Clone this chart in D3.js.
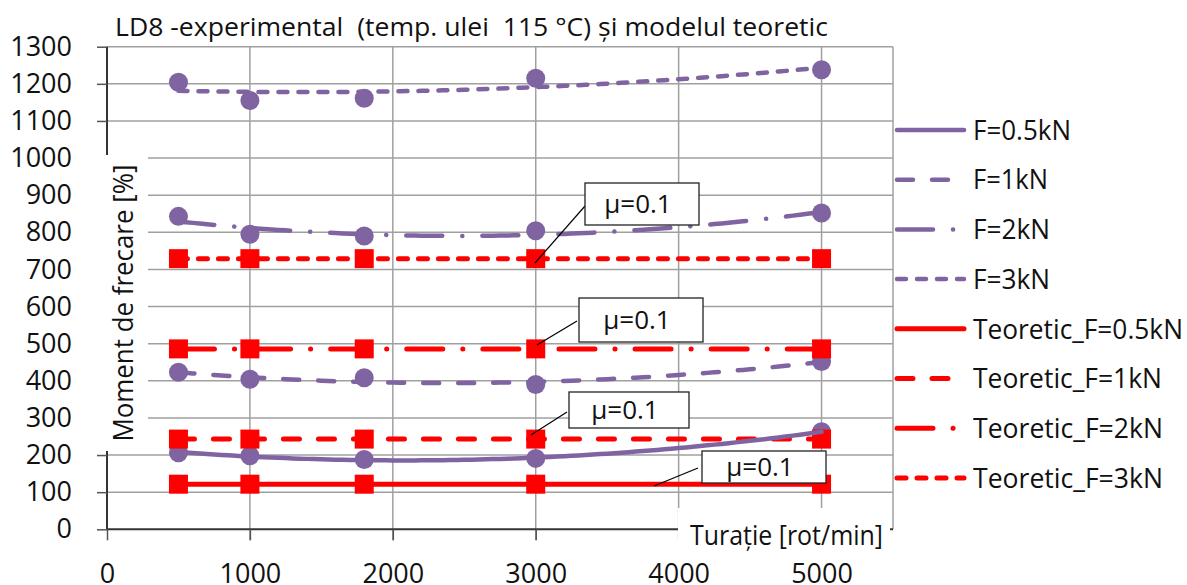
<!DOCTYPE html>
<html><head><meta charset="utf-8">
<script src="https://cdn.jsdelivr.net/npm/d3@7"></script>
<style>
html,body{margin:0;padding:0;background:#fff;}
text{font-family:"Open Sans",sans-serif;fill:#111;}
</style></head>
<body>
<svg id="c" width="1187" height="585"></svg>
<script>
// ---- data ----
const title = "LD8 -experimental  (temp. ulei  115 °C) și modelul teoretic";
const yTitle = "Moment de frecare [%]";
const xTitle = "Turație [rot/min]";
const speeds = [500, 1000, 1800, 3000, 5000];
const expF05 = [206, 198, 188, 191, 263];
const expF1  = [423, 404, 408, 390, 452];
const expF2  = [843, 795, 790, 804, 852];
const expF3  = [1204, 1155, 1161, 1215, 1238];
const teoF05 = [121.5, 121.5, 121.5, 121.5, 121.5];
const teoF1  = [243, 243, 243, 243, 243];
const teoF2  = [486, 486, 486, 486, 486];
const teoF3  = [729, 729, 729, 729, 729];
const xTicks = [0, 1000, 2000, 3000, 4000, 5000];
const yTicks = [0,100,200,300,400,500,600,700,800,900,1000,1100,1200,1300];
const expNames = ["F=0.5kN","F=1kN","F=2kN","F=3kN"];
const teoNames = ["Teoretic_F=0.5kN","Teoretic_F=1kN","Teoretic_F=2kN","Teoretic_F=3kN"];
const muLabel = "μ=0.1";

// ---- layout ----
const svg = d3.select("#c");
const L = 107, R = 893, T = 46.7, B = 529.3;
const x = d3.scaleLinear().domain([0, 5500]).range([L, R]);
const y = d3.scaleLinear().domain([0, 1300]).range([B, T]);
const purple = "#8064A2", red = "#FF0000", grid = "#a0a0a0";
const dashes = [null, "16,19", "36,20,0.1,20", "9,11"];

// gridlines
const g = svg.append("g");
g.selectAll(".hg").data(yTicks.slice(1)).join("line")
  .attr("x1", L).attr("x2", R).attr("y1", d => y(d)).attr("y2", d => y(d))
  .attr("stroke", grid).attr("stroke-width", 1.5);
g.selectAll(".vg").data(xTicks.slice(1)).join("line")
  .attr("x1", d => x(d)).attr("x2", d => x(d)).attr("y1", T).attr("y2", B + 11)
  .attr("stroke", grid).attr("stroke-width", 1.5);
// right border
g.append("line").attr("x1", R).attr("x2", R).attr("y1", T).attr("y2", B)
  .attr("stroke", grid).attr("stroke-width", 1.5);

// axes
const yAxis = svg.append("g").attr("transform", `translate(${L},0)`)
  .call(d3.axisLeft(y).tickValues(yTicks).tickSize(10).tickFormat(d3.format("d")));
yAxis.select(".domain").attr("stroke", "#333").attr("stroke-width", 2).attr("d", `M0,${T}V${B}`);
yAxis.selectAll(".tick line").attr("stroke", "#555").attr("stroke-width", 1.5);
yAxis.selectAll(".tick text").attr("x", -35).attr("font-size", 27).attr("fill", "#111")
  .style("font-family", "Open Sans");
const xAxis = svg.append("g").attr("transform", `translate(0,${B})`)
  .call(d3.axisBottom(x).tickValues(xTicks).tickSize(11).tickFormat(d3.format("d")));
xAxis.select(".domain").attr("stroke", "#333").attr("stroke-width", 2).attr("d", `M${L},0H${R}`);
xAxis.selectAll(".tick line").attr("stroke", "#555").attr("stroke-width", 1.5);
xAxis.selectAll(".tick text").attr("y", 35).attr("dy", "0.71em").attr("font-size", 27).attr("fill", "#111")
  .style("font-family", "Open Sans");

// quadratic least-squares trendline (Excel-style polynomial trend)
function quadFit(xs, ys) {
  const S = [0,0,0,0,0], Ty = [0,0,0];
  xs.forEach((xv, i) => { const t = xv / 1000; for (let k = 0; k < 5; k++) S[k] += Math.pow(t, k);
    for (let k = 0; k < 3; k++) Ty[k] += ys[i] * Math.pow(t, k); });
  const M = [[S[0],S[1],S[2],Ty[0]],[S[1],S[2],S[3],Ty[1]],[S[2],S[3],S[4],Ty[2]]];
  for (let i = 0; i < 3; i++) { for (let j = i + 1; j < 3; j++) { const f = M[j][i] / M[i][i];
    for (let k = i; k < 4; k++) M[j][k] -= f * M[i][k]; } }
  const c = [0,0,0];
  for (let i = 2; i >= 0; i--) { let s = M[i][3]; for (let k = i + 1; k < 3; k++) s -= M[i][k] * c[k]; c[i] = s / M[i][i]; }
  return xv => c[0] + c[1] * (xv / 1000) + c[2] * Math.pow(xv / 1000, 2);
}

const expSeries = [expF05, expF1, expF2, expF3];
const teoSeries = [teoF05, teoF1, teoF2, teoF3];
const plot = svg.append("g");
const line = d3.line().x(d => x(d[0])).y(d => y(d[1]));

// purple markers
expSeries.forEach(s => {
  plot.append("g").selectAll("circle").data(speeds.map((v, i) => [v, s[i]])).join("circle")
    .attr("cx", d => x(d[0])).attr("cy", d => y(d[1])).attr("r", 9.5).attr("fill", purple);
});
// red theoretical lines + squares
teoSeries.forEach((s, k) => {
  const pts = speeds.map((v, i) => [v, s[i]]);
  plot.append("path").attr("d", line(pts)).attr("fill", "none").attr("stroke", red)
    .attr("stroke-width", 5).attr("stroke-linecap", "round").attr("stroke-dasharray", dashes[k]);
  plot.append("g").selectAll("rect").data(pts).join("rect")
    .attr("x", d => x(d[0]) - 9.5).attr("y", d => y(d[1]) - 9.5).attr("width", 19).attr("height", 19).attr("fill", red);
});
// purple trendlines
expSeries.forEach((s, k) => {
  const f = quadFit(speeds, s);
  const pts = d3.range(500, 5001, 50).map(v => [v, f(v)]);
  plot.append("path").attr("d", line(pts)).attr("fill", "none").attr("stroke", purple)
    .attr("stroke-width", 4.5).attr("stroke-linecap", "round").attr("stroke-dasharray", dashes[k]);
});

// annotations (mu boxes with leader lines)
const ann = [
  {bx: 585, by: 183, bw: 114, bh: 42, lx1: 585, ly1: 206, lx2: 535, ly2: 263},
  {bx: 579, by: 298, bw: 124, bh: 44, lx1: 577, ly1: 321, lx2: 537, ly2: 345},
  {bx: 569, by: 392, bw: 120, bh: 36, lx1: 567, ly1: 412, lx2: 531, ly2: 435},
  {bx: 702, by: 451, bw: 124, bh: 32, lx1: 698, ly1: 468, lx2: 654, ly2: 486}
];
ann.forEach(a => {
  svg.append("line").attr("x1", a.lx1).attr("y1", a.ly1).attr("x2", a.lx2).attr("y2", a.ly2)
    .attr("stroke", "#000").attr("stroke-width", 1.2);
  svg.append("rect").attr("x", a.bx).attr("y", a.by).attr("width", a.bw).attr("height", a.bh)
    .attr("fill", "#fff").attr("stroke", "#222").attr("stroke-width", 1.3);
  svg.append("text").attr("x", a.bx + a.bw / 2 - 4).attr("y", a.by + a.bh / 2).attr("dy", "0.36em")
    .attr("text-anchor", "middle").attr("font-size", 26).text(muLabel);
});

// axis titles with white backing
svg.append("rect").attr("x", 95).attr("y", 155).attr("width", 53).attr("height", 296).attr("fill", "#fff");
svg.append("text").attr("transform", "translate(133,303) rotate(-90)").attr("text-anchor", "middle")
  .attr("font-size", 27).attr("textLength", 277).attr("lengthAdjust", "spacingAndGlyphs").text(yTitle);
svg.append("rect").attr("x", 678).attr("y", 508).attr("width", 212).attr("height", 45).attr("fill", "#fff");
svg.append("text").attr("x", 690).attr("y", 545).attr("font-size", 27)
  .attr("textLength", 193).attr("lengthAdjust", "spacingAndGlyphs").text(xTitle);

// title
svg.append("text").attr("x", 115).attr("y", 36).attr("font-size", 26)
  .attr("xml:space", "preserve").style("white-space", "pre")
  .attr("textLength", 713).attr("lengthAdjust", "spacingAndGlyphs").text(title);

// legend
const legend = svg.append("g");
const rows = expNames.map((n, i) => ({name: n, color: purple, dash: dashes[i], w: 4.5}))
  .concat(teoNames.map((n, i) => ({name: n, color: red, dash: dashes[i], w: 5})));
const legW = {"F=0.5kN": 98, "F=1kN": 75, "F=2kN": 77, "F=3kN": 77,
  "Teoretic_F=0.5kN": 210, "Teoretic_F=1kN": 189, "Teoretic_F=2kN": 190, "Teoretic_F=3kN": 190};
rows.forEach((r, i) => {
  const yy = 130 + i * 49.7;
  legend.append("line").attr("x1", 897).attr("x2", 964).attr("y1", yy).attr("y2", yy)
    .attr("stroke", r.color).attr("stroke-width", r.w).attr("stroke-linecap", "round")
    .attr("stroke-dasharray", r.dash);
  legend.append("text").attr("x", 973).attr("y", yy).attr("dy", "0.36em").attr("font-size", 27)
    .attr("textLength", legW[r.name]).attr("lengthAdjust", "spacingAndGlyphs").text(r.name);
});
</script>
</body></html>
